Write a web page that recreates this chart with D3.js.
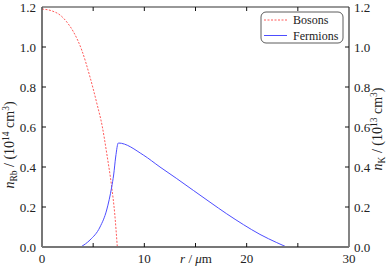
<!DOCTYPE html>
<html>
<head>
<meta charset="UTF-8">
<script src="https://cdn.jsdelivr.net/npm/d3@7/dist/d3.min.js"></script>
<style>
  body { margin: 0; background: #fff; }
  text { font-family: "Liberation Serif", "DejaVu Serif", serif; fill: #222; }
</style>
</head>
<body>
<svg id="chart" width="390" height="267"></svg>
<script>
// boson density n_Rb (10^14 cm^-3) vs r (um)
var bosonR = [0, 1, 1.76, 2.5, 3.06, 3.88, 4.69, 5.35, 5.9, 6.32, 6.81, 7.1, 7.36];
var bosonN = [1.19, 1.18, 1.16, 1.12, 1.077, 0.985, 0.85, 0.72, 0.60, 0.47, 0.30, 0.17, 0.0];

// fermion density n_K (10^13 cm^-3) vs r (um)
var fermionR = [3.78, 4.69, 5.67, 6.32, 6.81, 7.0, 7.2, 7.46, 9.9, 11.53, 13.17, 14.79, 16.42, 18.05, 19.68, 21.3, 22.94, 23.9];
var fermionN = [0, 0.035, 0.10, 0.185, 0.30, 0.36, 0.45, 0.52, 0.46, 0.40, 0.342, 0.283, 0.224, 0.166, 0.112, 0.063, 0.022, 0];

var xTicks = [0, 5, 10, 15, 20, 25, 30];
var xTickLabels = [0, 10, 20, 30];
var yTicks = [0, 0.2, 0.4, 0.6, 0.8, 1.0, 1.2];

(function () {
    var svg = d3.select("#chart");
    var pL = 42, pR = 349, pT = 7, pB = 247;

    var x = d3.scaleLinear().domain([0, 30]).range([pL, pR]);
    var yL = d3.scaleLinear().domain([0, 1.2]).range([pB, pT]);
    var yR = d3.scaleLinear().domain([0, 1.2]).range([pB, pT]);

    var boson = bosonR.map(function (r, i) { return [r, bosonN[i]]; });
    var fermion = fermionR.map(function (r, i) { return [r, fermionN[i]]; });

    svg.append("path")
        .attr("d", d3.line().x(function (d) { return x(d[0]); }).y(function (d) { return yL(d[1]); })
            .curve(d3.curveMonotoneX)(boson))
        .attr("fill", "none")
        .attr("stroke", "#ff5a5a")
        .attr("stroke-width", 1)
        .attr("stroke-dasharray", "2,1.5");

    svg.append("path")
        .attr("d", d3.line().x(function (d) { return x(d[0]); }).y(function (d) { return yR(d[1]); })
            .curve(d3.curveMonotoneX)(fermion))
        .attr("fill", "none")
        .attr("stroke", "#4d4dff")
        .attr("stroke-width", 1);

    // frame
    svg.append("line").attr("x1", pL).attr("x2", pR).attr("y1", pT).attr("y2", pT)
        .attr("stroke", "#333").attr("stroke-width", 1.2);
    svg.append("line").attr("x1", pR).attr("x2", pR).attr("y1", pT).attr("y2", pB)
        .attr("stroke", "#333").attr("stroke-width", 1.2);
    svg.append("line").attr("x1", pL).attr("x2", pL).attr("y1", pT).attr("y2", pB)
        .attr("stroke", "#555").attr("stroke-width", 1.6);
    svg.append("line").attr("x1", pL).attr("x2", pR).attr("y1", pB).attr("y2", pB)
        .attr("stroke", "#777").attr("stroke-width", 1.8);

    // ticks (inward)
    var tl = 4;
    xTicks.slice(1, -1).forEach(function (t) {
        svg.append("line").attr("x1", x(t)).attr("x2", x(t)).attr("y1", pB).attr("y2", pB - tl)
            .attr("stroke", "#111").attr("stroke-width", 1);
        svg.append("line").attr("x1", x(t)).attr("x2", x(t)).attr("y1", pT).attr("y2", pT + tl)
            .attr("stroke", "#111").attr("stroke-width", 1);
    });
    yTicks.slice(1, -1).forEach(function (t) {
        svg.append("line").attr("x1", pL).attr("x2", pL + tl).attr("y1", yL(t)).attr("y2", yL(t))
            .attr("stroke", "#111").attr("stroke-width", 1);
        svg.append("line").attr("x1", pR).attr("x2", pR - tl).attr("y1", yR(t)).attr("y2", yR(t))
            .attr("stroke", "#111").attr("stroke-width", 1);
    });

    // tick labels
    svg.selectAll("text.xl").data(xTickLabels).enter().append("text")
        .attr("x", function (d) { return x(d); })
        .attr("y", 263)
        .attr("text-anchor", "middle")
        .attr("font-size", 13)
        .text(function (d) { return d; });

    svg.selectAll("text.yl").data(yTicks).enter().append("text")
        .attr("x", 36)
        .attr("y", function (d) { return yL(d) + 4.5; })
        .attr("text-anchor", "end")
        .attr("font-size", 13)
        .text(function (d) { return d.toFixed(1); });

    svg.selectAll("text.yr").data(yTicks).enter().append("text")
        .attr("x", 354)
        .attr("y", function (d) { return yR(d) + 4.5; })
        .attr("text-anchor", "start")
        .attr("font-size", 13)
        .text(function (d) { return d.toFixed(1); });

    // x axis label
    var xl = svg.append("text").attr("x", 196).attr("y", 263).attr("text-anchor", "middle").attr("font-size", 13);
    xl.append("tspan").attr("font-style", "italic").text("r");
    xl.append("tspan").text(" / ");
    xl.append("tspan").attr("font-style", "italic").text("μ");
    xl.append("tspan").text("m");

    // y axis labels
    function yLabel(cx, cy, sub, exp) {
        var t = svg.append("text")
            .attr("transform", "translate(" + cx + "," + cy + ") rotate(-90)")
            .attr("text-anchor", "middle")
            .attr("font-size", 14);
        t.append("tspan").attr("font-style", "italic").text("n");
        t.append("tspan").attr("font-size", 9.5).attr("dy", 3).text(sub);
        t.append("tspan").attr("dy", -3).text(" / (10");
        t.append("tspan").attr("font-size", 9.5).attr("dy", -5.5).text(exp);
        t.append("tspan").attr("dy", 5.5).text(" cm");
        t.append("tspan").attr("font-size", 9.5).attr("dy", -5.5).text("3");
        t.append("tspan").attr("dy", 5.5).text(")");
    }
    yLabel(14, 145, "Rb", "14");
    yLabel(382, 129, "K", "13");

    // legend
    var lg = svg.append("g");
    lg.append("rect").attr("x", 261).attr("y", 12).attr("width", 82).attr("height", 31).attr("rx", 5)
        .attr("fill", "#fff").attr("stroke", "#333").attr("stroke-width", 0.8);
    var entries = [
        { name: "Bosons", color: "#ff5a5a", dash: "2,1.5" },
        { name: "Fermions", color: "#4d4dff", dash: "none" }
    ];
    entries.forEach(function (e, i) {
        var yy = 20 + i * 15.5;
        lg.append("line").attr("x1", 264).attr("x2", 287).attr("y1", yy).attr("y2", yy)
            .attr("stroke", e.color).attr("stroke-width", 1)
            .attr("stroke-dasharray", e.dash);
        lg.append("text").attr("x", 293).attr("y", yy + 4).attr("font-size", 12).text(e.name);
    });
})();
</script>
</body>
</html>
